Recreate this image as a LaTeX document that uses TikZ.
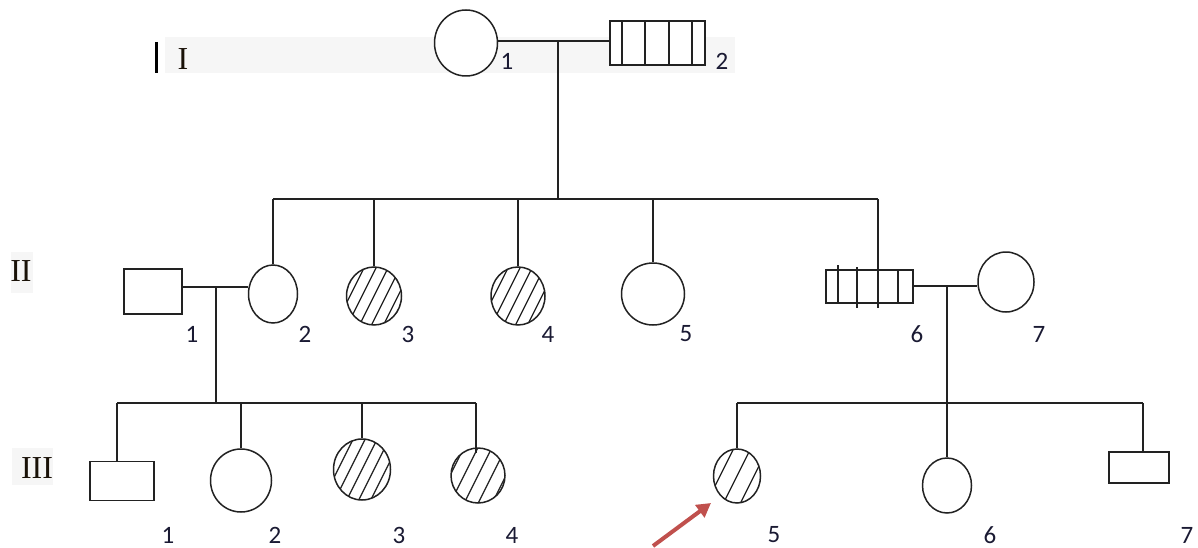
\documentclass[tikz,border=0pt]{standalone}
\usepackage{fontspec}
\setmainfont{Liberation Serif}
\newfontfamily\numfont{Carlito}
\usetikzlibrary{shapes.geometric,arrows.meta,calc}
\definecolor{band}{HTML}{F6F6F6}
\definecolor{ink}{HTML}{222222}
\definecolor{genink}{HTML}{1A1208}
\definecolor{numink}{HTML}{1A1A33}
\definecolor{arrowred}{HTML}{C0504D}
\begin{document}
\begin{tikzpicture}[x=1pt,y=-1pt,line width=1.5pt,
  female/.style={ellipse,draw=ink,fill=white,inner sep=0pt,line width=1.5pt},
  male/.style={rectangle,draw=ink,fill=white,inner sep=0pt,line width=1.5pt},
  hatched/.style={path picture={
    \foreach \k in {-6,...,6}{
      \draw[ink,line width=1.2pt] ($(path picture bounding box.center)+(\k*#1-28pt,-56pt)$) -- ++(56pt,112pt);
    }}},
  hatched/.default=12pt,
  link/.style={draw=ink,line width=1.5pt},
  numlab/.style={font=\numfont\fontsize{25}{25}\selectfont,text=numink,inner sep=0pt},
  genlab/.style={font=\fontsize{32}{32}\selectfont,text=genink,inner sep=0pt},
  tick/.style={draw=ink,line width=1.4pt}
]
\useasboundingbox (0,0) rectangle (1198,548);
% generation band and labels
\fill[band] (165,37) rectangle (735,73);
\fill[band] (11,252) rectangle (33,293);
\fill[band] (12,448) rectangle (53,485);
\draw[black,line width=3pt] (156,42) -- (156,73);
\node[genlab] (gI) at (183,59) {I};
\node[genlab] (gII) at (21,271) {II};
\node[genlab] (gIII) at (37,468) {III};

% generation I
\node[female,minimum width=63pt,minimum height=66pt] (I1) at (466,43) {};
\node[male,minimum width=95pt,minimum height=44pt] (I2) at (657.5,43) {};
\foreach \xx in {622,645,669,692} \draw[tick] (\xx,21) -- (\xx,65);
\coordinate (m1) at (558,41);
\draw[link] (I1.east|-m1) -- (I2.west|-m1);
\node[numlab] (lI1) at (507,61) {1};
\node[numlab] (lI2) at (722,61) {2};

% generation II
\coordinate (s2L) at (273,199);
\coordinate (s2R) at (878,199);
\draw[link] (s2L) -- (s2R);
\draw[link] (m1) -- (m1|-s2L);

\node[male,minimum width=58pt,minimum height=45pt] (II1) at (153,291.5) {};
\node[female,minimum width=49pt,minimum height=58pt] (II2) at (273,294) {};
\node[female,hatched,minimum width=55pt,minimum height=58pt] (II3) at (374,296) {};
\node[female,hatched,minimum width=54pt,minimum height=58pt] (II4) at (518,296) {};
\node[female,minimum width=63pt,minimum height=62pt] (II5) at (653,294) {};
\node[male,minimum width=87pt,minimum height=33pt] (II6) at (869.5,286.5) {};
\node[female,minimum width=56pt,minimum height=60pt] (II7) at (1006,282) {};

\draw[link] (II2.north) -- (II2.north|-s2L);
\draw[link] (II3.north) -- (II3.north|-s2L);
\draw[link] (II4.north) -- (II4.north|-s2L);
\draw[link] (II5.north) -- (II5.north|-s2L);
\coordinate (d6) at (878,308);
\draw[link] (s2R) -- (d6);
\draw[tick] (838,265) -- (838,303);
\draw[tick] (857,267) -- (857,308);
\draw[tick] (898,270) -- (898,303);

\coordinate (m2) at (216,287);
\draw[link] (II1.east|-m2) -- (II2.west|-m2);
\coordinate (m3) at (947,286);
\draw[link] (II6.east|-m3) -- (II7.west|-m3);

\node[numlab] (lII1) at (192,334) {1};
\node[numlab] (lII2) at (305,334) {2};
\node[numlab] (lII3) at (408,334) {3};
\node[numlab] (lII4) at (548,334) {4};
\node[numlab] (lII5) at (686,334) {5};
\node[numlab] (lII6) at (917,334) {6};
\node[numlab] (lII7) at (1039,334) {7};

% generation III, left family
\coordinate (s3L) at (117,403);
\coordinate (s3R) at (476,403);
\draw[link] (s3L) -- (s3R);
\draw[link] (m2) -- (m2|-s3L);

\node[male,minimum width=64pt,minimum height=39pt] (III1) at (122,481) {};
\node[female,minimum width=61pt,minimum height=63pt] (III2) at (241,480.5) {};
\node[female,hatched,minimum width=57pt,minimum height=61pt] (III3) at (362,469.5) {};
\node[female,hatched=14pt,minimum width=54pt,minimum height=55pt] (III4) at (478,475.5) {};

\draw[link] (s3L) -- (s3L|-III1.north);
\draw[link] (III2.north) -- (III2.north|-s3L);
\draw[link] (III3.north) -- (III3.north|-s3L);
\coordinate (d34) at (476,453);
\draw[link] (s3R) -- (d34);

% generation III, right family
\coordinate (s3rL) at (737,403);
\coordinate (s3rR) at (1143,403);
\draw[link] (s3rL) -- (s3rR);

\node[female,hatched=17pt,minimum width=47pt,minimum height=54pt] (III5) at (737,476) {};
\node[female,minimum width=49pt,minimum height=55pt] (III6) at (947,485.5) {};
\node[male,minimum width=60pt,minimum height=31pt] (III7) at (1139,467.5) {};

\draw[link] (m3) -- (III6.north);
\draw[link] (III5.north) -- (s3rL);
\draw[link] (s3rR) -- (s3rR|-III7.north);

\node[numlab] (lIII1) at (168,535) {1};
\node[numlab] (lIII2) at (275,535) {2};
\node[numlab] (lIII3) at (399,535) {3};
\node[numlab] (lIII4) at (512,535) {4};
\node[numlab] (lIII5) at (774,535) {5};
\node[numlab] (lIII6) at (990,535) {6};
\node[numlab] (lIII7) at (1187,535) {7};

% proband arrow
\coordinate (arrS) at (653,546);
\coordinate (arrE) at (711,503);
\draw[arrowred,line width=4pt,-{Triangle[length=14pt,width=15pt]}] (arrS) -- (arrE);
\end{tikzpicture}
\end{document}
